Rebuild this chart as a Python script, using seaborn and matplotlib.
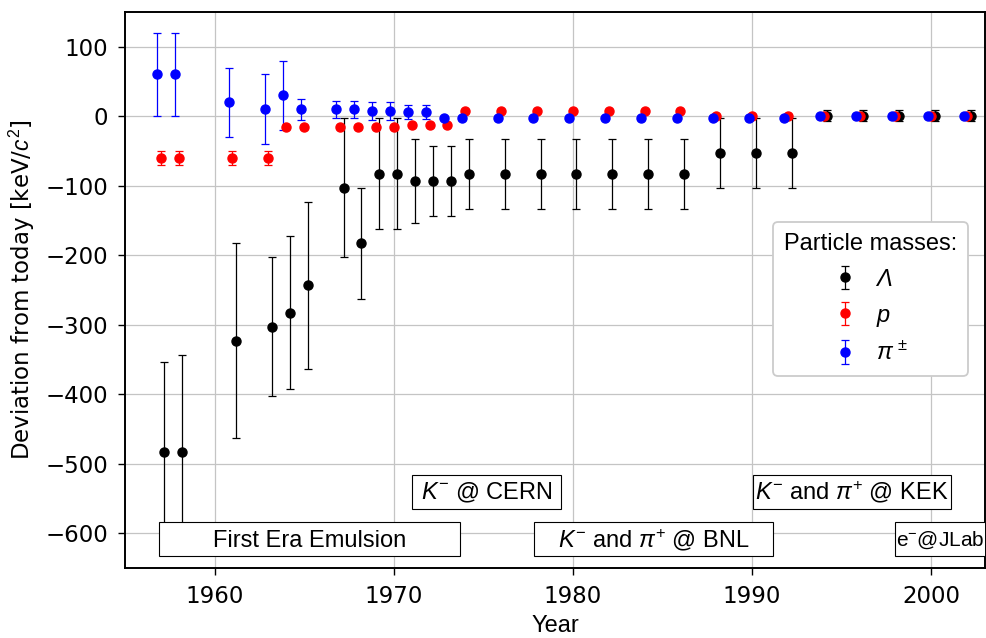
import matplotlib
matplotlib.use("Agg")
import matplotlib.pyplot as plt
import seaborn as sns
from matplotlib.patches import Rectangle

# ---------------- data ----------------
years = [1957, 1958, 1961, 1963, 1964, 1965, 1967, 1968, 1969, 1970, 1971, 1972,
         1973, 1974, 1976, 1978, 1980, 1982, 1984, 1986, 1988, 1990, 1992, 1994,
         1996, 1998, 2000, 2002]

lambda_val = [-483, -483, -323, -303, -283, -243, -103, -183, -83, -83, -93, -93,
              -93, -83, -83, -83, -83, -83, -83, -83, -53, -53, -53, 1,
              1, 1, 1, 1]
lambda_err = [130, 140, 140, 100, 110, 120, 100, 80, 80, 80, 60, 50,
              50, 50, 50, 50, 50, 50, 50, 50, 50, 50, 50, 8,
              8, 8, 8, 8]

p_val = [-60, -60, -60, -60, -16, -16, -16, -16, -16, -16, -13, -13,
         -13, 8, 8, 8, 8, 8, 8, 8, 0, 0, 0, 0,
         0, 0, 0, 0]
p_err = [10, 10, 10, 10, 3, 3, 3, 3, 3, 3, 3, 3,
         3, 1, 1, 1, 1, 1, 1, 1, 1, 1, 1, 1,
         1, 1, 1, 1]

pi_val = [60, 60, 20, 10, 30, 10, 10, 10, 8, 8, 6, 6,
          -2, -2, -2, -3, -3, -3, -3, -3, -3, -3, -3, 0,
          0, 0, 0, 0]
pi_err = [60, 60, 50, 50, 50, 15, 12, 12, 13, 13, 10, 10,
          3, 3, 3, 1, 1, 1, 1, 1, 1, 1, 1, 1,
          1, 1, 1, 1]

series_labels = ["Λ", r"$p$", r"$\pi^{\,\pm}$"]
series_colors = ["black", "red", "blue"]
series_shift = [0.2, 0.0, -0.2]

eras = ["First Era Emulsion", r"$K^{-}$ @ CERN", r"$K^{-}$ and $\pi^{+}$ @ BNL",
        r"$K^{-}$ and $\pi^{+}$ @ KEK", r"e$^{-}$@JLab"]
era_start = [1956.9, 1971.0, 1977.85, 1990.05, 1998.0]
era_end = [1973.7, 1979.35, 1991.15, 2001.1, 2004.0]
era_row = [0, 1, 0, 1, 0]

# ---------------- style ----------------
sns.set_theme(style="whitegrid")
plt.rcParams.update({
    "font.family": ["DejaVu Sans"],
    "mathtext.fontset": "custom",
    "mathtext.rm": "Liberation Sans",
    "mathtext.it": "Liberation Sans:italic",
    "mathtext.bf": "Liberation Sans:bold",
    "text.color": "black",
    "axes.labelcolor": "black",
    "axes.edgecolor": "black",
    "axes.linewidth": 1.4,
    "grid.color": "#c4c4c4",
    "grid.linewidth": 0.9,
    "xtick.bottom": True,
    "ytick.left": True,
    "xtick.color": "black",
    "ytick.color": "black",
    "xtick.major.size": 5,
    "ytick.major.size": 5,
    "xtick.major.width": 1.0,
    "ytick.major.width": 1.0,
    "xtick.major.pad": 7,
    "ytick.major.pad": 7,
    "legend.labelcolor": "black",
})

fig = plt.figure(figsize=(9.87, 6.38), dpi=100)
ax = fig.add_axes([0.1266, 0.1097, 0.8714, 0.8716])
ax.set_facecolor("white")

all_vals = [lambda_val, p_val, pi_val]
all_errs = [lambda_err, p_err, pi_err]
for vals, errs, lab, col, sh in zip(all_vals, all_errs, series_labels, series_colors, series_shift):
    ax.errorbar([y + sh for y in years], vals, yerr=errs, fmt="o", color=col,
                ecolor=col, elinewidth=0.9, capsize=3.2, capthick=0.9,
                markersize=6.5, label=lab, zorder=3)

ax.set_xlim(1955, 2003)
ax.set_ylim(-650, 150)
ax.set_xticks([1960, 1970, 1980, 1990, 2000])
ax.set_yticks([100, 0, -100, -200, -300, -400, -500, -600])
ax.tick_params(labelsize=16.5)
ax.grid(True, zorder=0)
ax.set_axisbelow(True)

ax.set_xlabel("Year", family="Liberation Sans", fontsize=17, labelpad=5)
ax.set_ylabel(r"Deviation from today [keV/$c^2$]", fontsize=16.5, labelpad=6)

row_y = {0: (-633, -584), 1: (-565, -516)}
for name, s, e, r in zip(eras, era_start, era_end, era_row):
    y0, y1 = row_y[r]
    rect = Rectangle((s, y0), e - s, y1 - y0, facecolor="white", edgecolor="black",
                     linewidth=0.8, zorder=5)
    ax.add_patch(rect)
    if name.startswith("e"):
        ax.text(s + 0.02, (y0 + y1) / 2 - 2, name, ha="left", va="center",
                family="Liberation Sans", fontsize=15, zorder=6)
    else:
        ax.text((s + e) / 2, (y0 + y1) / 2 - 2, name, ha="center", va="center",
                family="Liberation Sans", fontsize=17, zorder=6)

leg = ax.legend(loc="upper right", bbox_to_anchor=(0.98, 0.622), borderaxespad=0,
                title="Particle masses:",
                prop={"family": "Liberation Sans", "size": 17, "style": "italic"},
                title_fontproperties={"family": "Liberation Sans", "size": 17},
                frameon=True, fancybox=True, framealpha=1.0, edgecolor="#cccccc",
                handlelength=1.0, handletextpad=0.8, labelspacing=0.55,
                borderpad=0.45)
leg.get_frame().set_linewidth(1.3)
leg.set_zorder(10)

fig.savefig("out.png", dpi=100)
